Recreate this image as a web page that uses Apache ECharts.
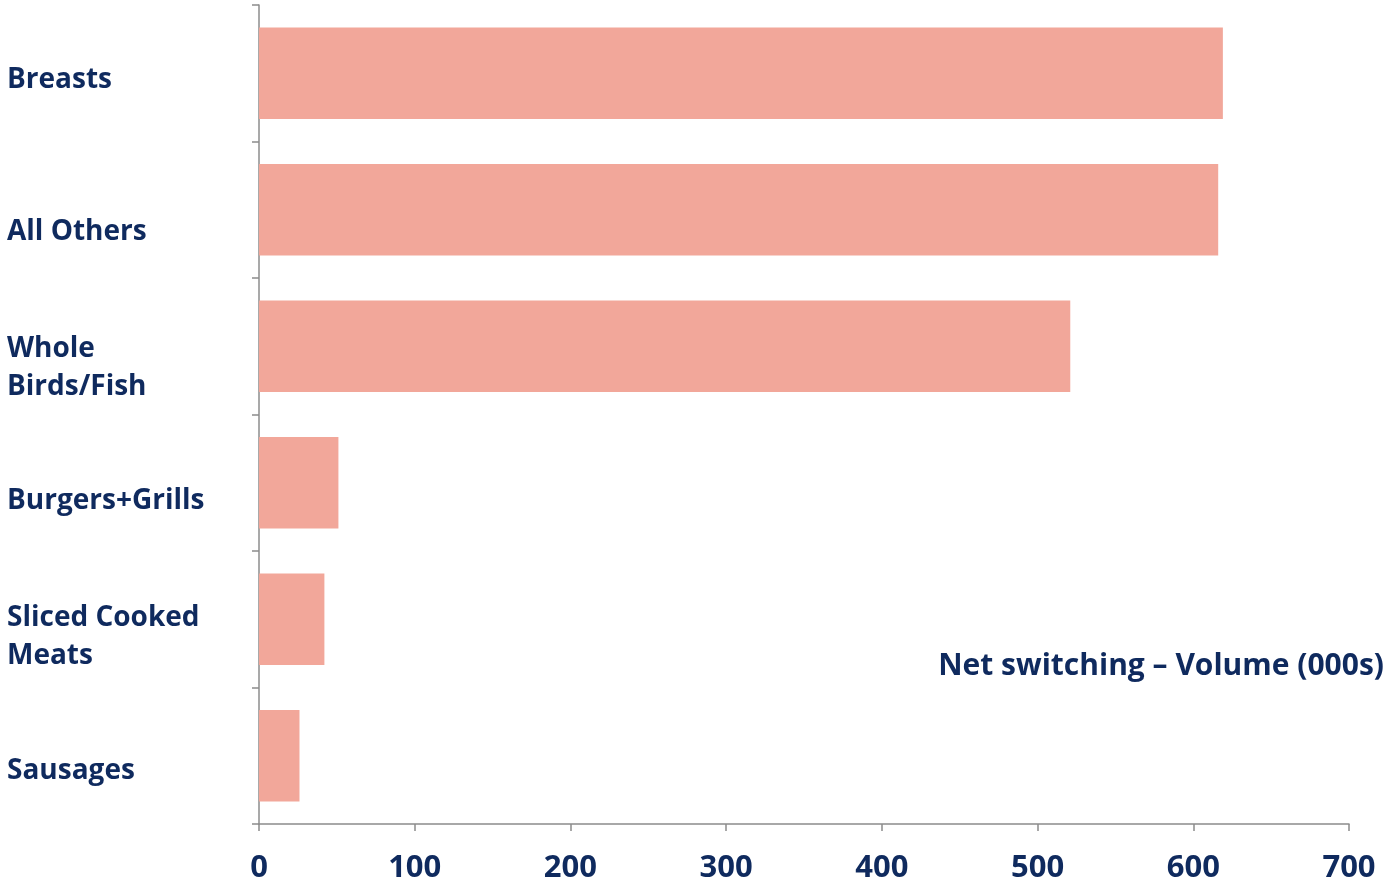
<!DOCTYPE html>
<html>
<head>
<meta charset="utf-8">
<script src="https://cdn.jsdelivr.net/npm/echarts@6/dist/echarts.min.js"></script>
<style>html,body{margin:0;padding:0;background:#fff}#c{width:1385px;height:882px}</style>
</head>
<body>
<div id="c"></div>
<script>
const categories = ['Breasts', 'All Others', 'Whole\nBirds/Fish', 'Burgers+Grills', 'Sliced Cooked\nMeats', 'Sausages'];
const values = [619, 616, 521, 51, 42, 26];
const xTicks = [0, 100, 200, 300, 400, 500, 600, 700];
const titleText = 'Net switching \u2013 Volume (000s)';

const navy = '#0f2a5e';
const font = '"Open Sans", sans-serif';
const labelShift = [7, 22, 22, 18, 18, 15];

const rich = {t: {color: navy, fontFamily: font, fontWeight: 'bold', fontSize: 28, lineHeight: 38}};
labelShift.forEach((s, i) => { rich['g' + i] = {fontSize: 1, lineHeight: s * 2}; });

const chart = echarts.init(document.getElementById('c'), null, {renderer: 'canvas'});
chart.setOption({
  animation: false,
  backgroundColor: '#fff',
  title: {
    text: titleText,
    right: -4, top: 646,
    textStyle: {color: navy, fontFamily: font, fontWeight: 'bold', fontSize: 30}
  },
  grid: {left: 259, right: 36, top: 5, bottom: 58, containLabel: false, outerBoundsMode: 'none'},
  xAxis: {
    type: 'value',
    min: xTicks[0], max: xTicks[xTicks.length - 1], interval: 100,
    axisLine: {show: true, lineStyle: {color: '#8c8c8c', width: 1.5}},
    axisTick: {show: true, length: 7, lineStyle: {color: '#8c8c8c', width: 1.5}},
    splitLine: {show: false},
    axisLabel: {color: navy, fontFamily: font, fontWeight: 'bold', fontSize: 31, margin: 29}
  },
  yAxis: {
    type: 'category',
    inverse: true,
    data: categories,
    axisLine: {show: true, lineStyle: {color: '#8c8c8c', width: 1.5}},
    axisTick: {show: true, length: 7, alignWithLabel: false, lineStyle: {color: '#8c8c8c', width: 1.5}},
    axisLabel: {
      color: navy, fontFamily: font, fontWeight: 'bold', fontSize: 28,
      align: 'left', margin: 252, lineHeight: 38,
      formatter: (v, i) => '{g' + i + '| }\n' + v.split('\n').map(l => '{t|' + l + '}').join('\n'),
      rich: rich
    }
  },
  series: [{
    type: 'bar',
    data: values,
    barCategoryGap: '33%',
    itemStyle: {color: '#f2a79a'}
  }]
});
</script>
</body>
</html>
